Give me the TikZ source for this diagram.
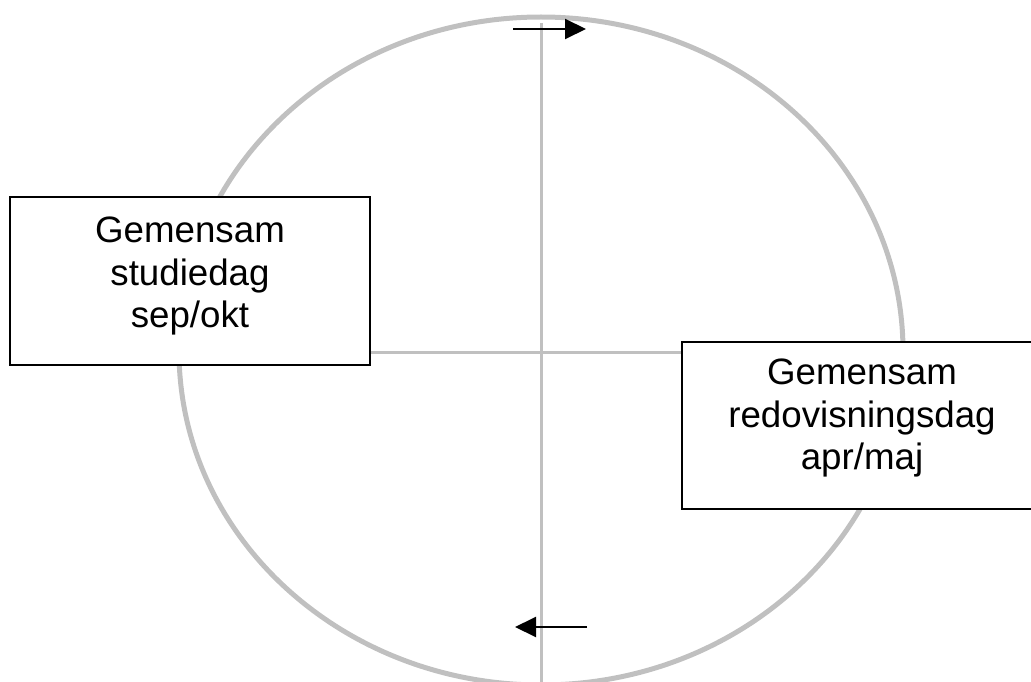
\documentclass[tikz,border=0pt]{standalone}
\usepackage{fontspec}
\setmainfont{Liberation Sans}
\usetikzlibrary{arrows.meta}
\definecolor{ringgray}{HTML}{C0C0C0}
\tikzset{
  ring/.style={draw=ringgray, line width=5pt},
  axis/.style={draw=ringgray, line width=3pt},
  boxshape/.style={draw=black, fill=white, line width=1.5pt, rectangle, inner sep=0pt},
  boxtext/.style={align=center, inner sep=0pt, font=\fontsize{36.7}{42.5}\selectfont},
  flow/.style={draw=black, line width=2pt, -{Triangle[length=21pt,width=20pt]}}
}
\begin{document}
\begin{tikzpicture}[x=1pt, y=-1pt]
\useasboundingbox (0,0) rectangle (1031,682);
\clip (0,0) rectangle (1031,682);
% ring and cross
\draw[ring] (541,351) ellipse [x radius=362, y radius=334];
\coordinate (vt) at (541,23);
\coordinate (vb) at (541,690);
\draw[axis] (vt) -- (vb);
% boxes
\node[boxshape, minimum width=360pt, minimum height=168pt] (L) at (190,281) {};
\node[boxshape, minimum width=360pt, minimum height=167pt] (R) at (862,425.5) {};
\coordinate (hy) at (541,352);
\draw[axis] (L.east |- hy) -- (R.west |- hy);
\node[boxtext] (Lt) at (190,276) {Gemensam\\studiedag\\sep/okt};
\node[boxtext] (Rt) at (862,418) {Gemensam\\redovisningsdag\\apr/maj};
% arrows
\coordinate (a1) at (513,29);
\coordinate (a2) at (586,29);
\draw[flow] (a1) -- (a2);
\coordinate (b1) at (587,627);
\coordinate (b2) at (515,627);
\draw[flow] (b1) -- (b2);
\end{tikzpicture}
\end{document}
